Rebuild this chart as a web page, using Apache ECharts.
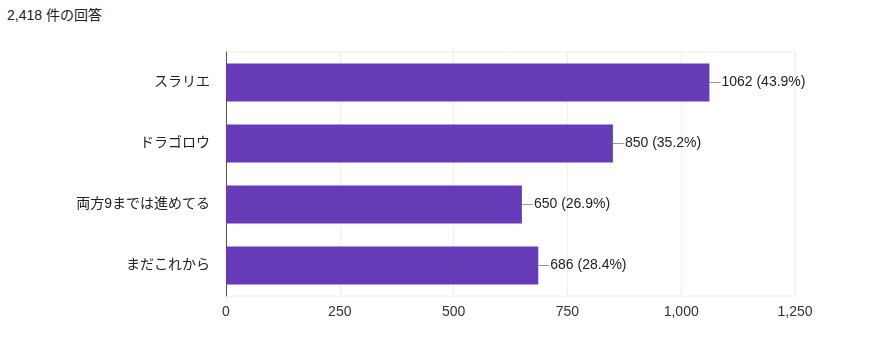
<!DOCTYPE html>
<html>
<head>
<meta charset="utf-8">
<script src="https://cdn.jsdelivr.net/npm/echarts@6/dist/echarts.min.js"></script>
<style>
  html, body { margin: 0; padding: 0; background: #fff; }
  #title { position: absolute; left: 7px; top: 4px; font: 14px "Liberation Sans", "Noto Sans CJK JP", sans-serif; color: #202124; }
  #chart { width: 888px; height: 351px; }
</style>
</head>
<body>
<div id="title">2,418 件の回答</div>
<div id="chart"></div>
<script>
  var categories = ['スラリエ', 'ドラゴロウ', '両方9までは進めてる', 'まだこれから'];
  var counts = [1062, 850, 650, 686];
  var percents = ['43.9%', '35.2%', '26.9%', '28.4%'];
  var xTicks = [0, 250, 500, 750, 1000, 1250];

  var font = '"Liberation Sans", "Noto Sans CJK JP", sans-serif';
  var myChart = echarts.init(document.getElementById('chart'));

  myChart.setOption({
    animation: false,
    textStyle: { fontFamily: font },
    grid: {
      left: 226, right: 93, top: 52, bottom: 55,
      show: true,
      borderColor: '#eeeeee',
      borderWidth: 1
    },
    xAxis: {
      type: 'value',
      min: xTicks[0],
      max: xTicks[xTicks.length - 1],
      interval: 250,
      axisLine: { show: false },
      axisTick: { show: false },
      splitLine: { lineStyle: { color: '#eeeeee' } },
      axisLabel: {
        color: '#333', fontSize: 14, fontFamily: font, margin: 9,
        formatter: function (v) { return v.toLocaleString('en-US'); }
      }
    },
    yAxis: {
      type: 'category',
      inverse: true,
      data: categories,
      axisLine: { lineStyle: { color: '#555', width: 1 } },
      axisTick: { show: false },
      axisLabel: { color: '#222', fontSize: 14, fontFamily: font, margin: 16 }
    },
    series: [{
      type: 'bar',
      data: counts,
      barWidth: '62%',
      itemStyle: { color: '#673ab7' },
      label: {
        show: true,
        position: 'right',
        distance: 0,
        formatter: function (p) {
          return '{l|}{t|' + p.value + ' (' + percents[p.dataIndex] + ')}';
        },
        rich: {
          l: { width: 11, height: 1, backgroundColor: '#999' },
          t: { color: '#222', fontSize: 14, fontFamily: font, padding: [0, 0, 0, 1] }
        }
      }
    }]
  });
</script>
</body>
</html>
